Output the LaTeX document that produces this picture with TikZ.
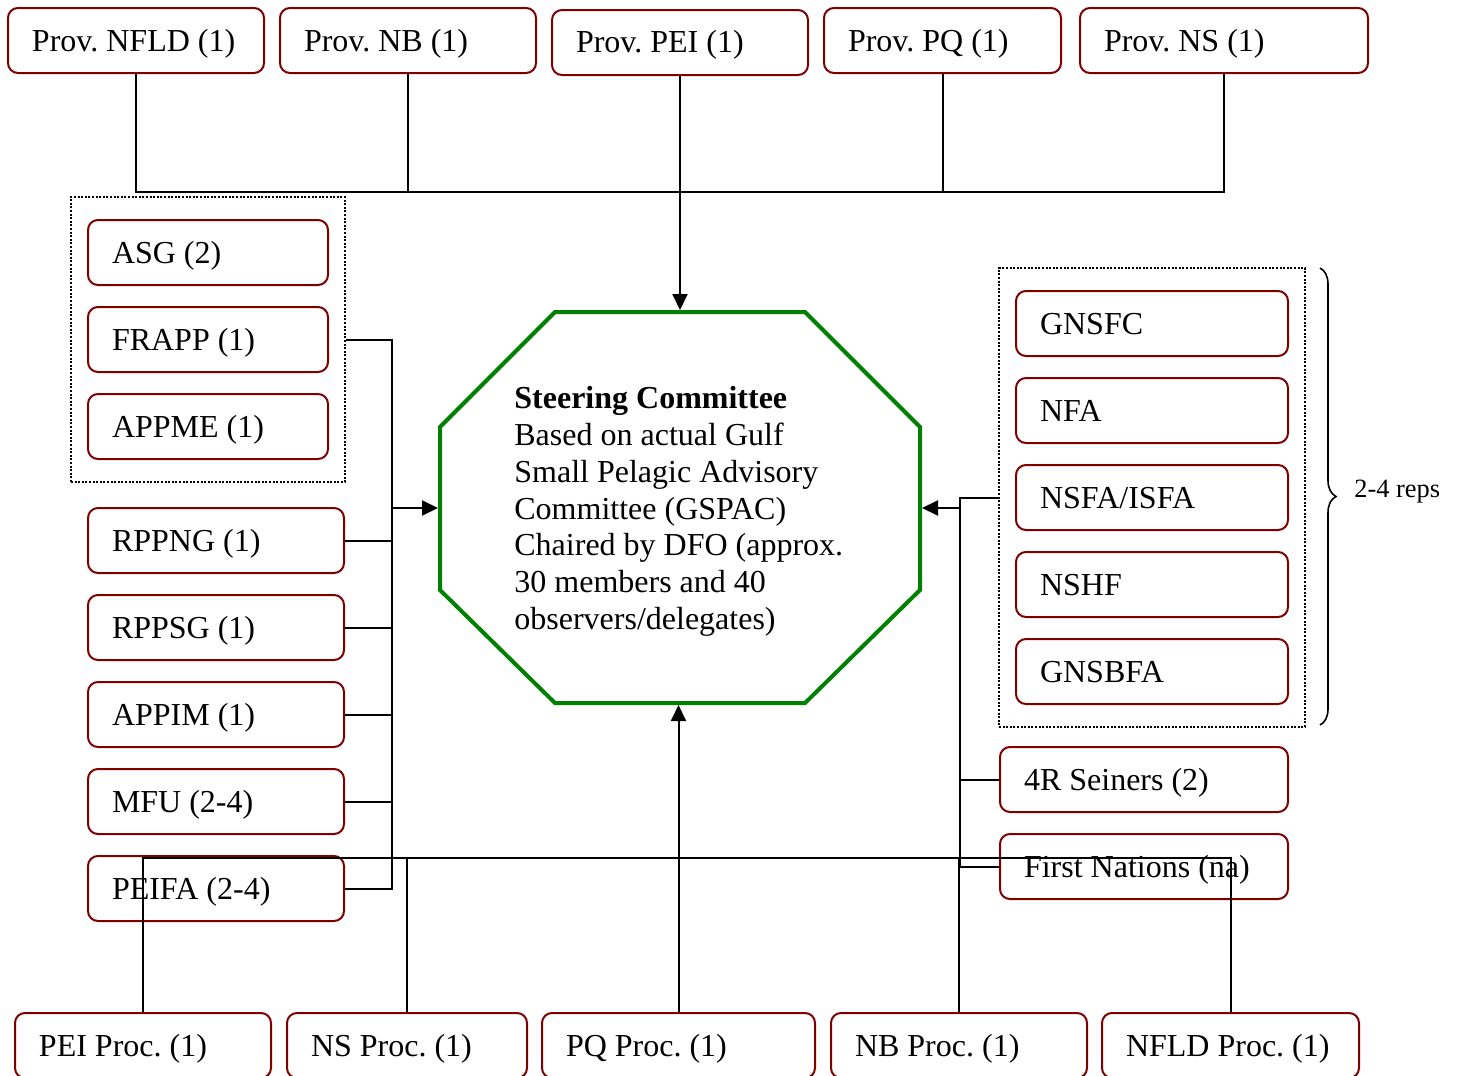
\documentclass[tikz,border=0pt]{standalone}
\usepackage{fontspec}
\setmainfont{Liberation Serif}
\usetikzlibrary{arrows.meta,fit,decorations.pathreplacing}
\definecolor{dred}{RGB}{128,0,0}
\definecolor{octgreen}{RGB}{0,128,0}
\frenchspacing
\begin{document}
\begin{tikzpicture}[x=0.5pt,y=-0.5pt,
  box/.style={draw=dred, line width=1pt, rounded corners=5pt, fill=white,
    minimum height=32.5pt, inner xsep=12pt, inner ysep=0pt, align=flush left,
    text height=11.5pt, text depth=1pt,
    font=\fontsize{16}{18.4}\selectfont},
  dotbox/.style={draw=black, line width=1.4pt, dash pattern=on 1pt off 0.8pt,
    inner xsep=8pt, inner ysep=11pt},
  conn/.style={draw=black, line width=1pt},
  arr/.style={conn, -{Triangle[length=8pt,width=7.5pt]}},
  octline/.style={draw=octgreen, line width=2pt}]
\clip (0,0) rectangle (1457,1076);
\useasboundingbox (0,0) rectangle (1457,1076);
\fill[white] (0,0) rectangle (1457,1076);

% top row
\node[box, text width=104pt] (tnfld) at (136,40.5) {Prov. NFLD (1)};
\node[box, text width=104pt] (tnb) at (408,40.5) {Prov. NB (1)};
\node[box, text width=104pt] (tpei) at (680,42.5) {Prov. PEI (1)};
\node[box, text width=94.5pt] (tpq) at (942.5,40.5) {Prov. PQ (1)};
\node[box, text width=120pt] (tns) at (1224,40.5) {Prov. NS (1)};

% left group
\node[box, text width=96pt] (asg) at (208,252.5) {ASG (2)};
\node[box, text width=96pt] (frapp) at (208,339.5) {FRAPP (1)};
\node[box, text width=96pt] (appme) at (208,426.5) {APPME (1)};
\node[dotbox, fit=(asg)(frapp)(appme)] (ldot) {};

\node[box, text width=104pt] (rppng) at (216,540.5) {RPPNG (1)};
\node[box, text width=104pt] (rppsg) at (216,627.5) {RPPSG (1)};
\node[box, text width=104pt] (appim) at (216,714.5) {APPIM (1)};
\node[box, text width=104pt] (mfu) at (216,801.5) {MFU (2-4)};
\node[box, text width=104pt] (peifa) at (216,888.5) {PEIFA (2-4)};

% right group
\node[box, text width=112pt] (gnsfc) at (1152,323.5) {GNSFC};
\node[box, text width=112pt] (nfa) at (1152,410.5) {NFA};
\node[box, text width=112pt] (nsfa) at (1152,497.5) {NSFA/ISFA};
\node[box, text width=112pt] (nshf) at (1152,584.5) {NSHF};
\node[box, text width=112pt] (gnsbfa) at (1152,671.5) {GNSBFA};
\node[dotbox, fit=(gnsfc)(gnsbfa)] (rdot) {};

\node[box, text width=120pt] (seiners) at (1144,779.5) {4R Seiners (2)};
\node[box, text width=120pt] (fnat) at (1144,866.5) {First Nations (na)};

% bottom row
\node[box, text width=104pt] (bpei) at (143,1045.5) {PEI Proc. (1)};
\node[box, text width=96pt] (bns) at (407,1045.5) {NS Proc. (1)};
\node[box, text width=112.5pt] (bpq) at (678.5,1045.5) {PQ Proc. (1)};
\node[box, text width=104pt] (bnb) at (959,1045.5) {NB Proc. (1)};
\node[box, text width=104.5pt] (bnfld) at (1230.5,1045.5) {NFLD Proc. (1)};

% octagon
\draw[octline] (555,312) -- (805,312) -- (920,427) -- (920,590) -- (805,703)
  -- (555,703) -- (440,590) -- (440,427) -- cycle;
\coordinate (octN) at (680,312);
\coordinate (octS) at (680,703);
\coordinate (octW) at (440,508);
\coordinate (octE) at (920,508);
\node[anchor=north west, align=left, inner sep=0pt,
  font=\fontsize{16}{18.4}\selectfont] (octtext) at (514,386)
  {\textbf{Steering Committee}\\Based on actual Gulf\\Small Pelagic Advisory\\Committee (GSPAC)\\Chaired by DFO (approx.\\30 members and 40\\observers/delegates)};

% brace
\draw[line width=0.8pt, decorate, decoration={brace, amplitude=8pt}] (1320,268) -- (1320,725);
\node[anchor=west, inner sep=0pt, font=\fontsize{13.2}{15}\selectfont] (reps) at (1354,492) {2-4 reps};

% top connectors
\coordinate (tbus) at (680,192);
\draw[conn] (tnfld.south) -- (tnfld.south |- tbus) -- (tns.south |- tbus) -- (tns.south);
\draw[conn] (tnb.south) -- (tnb.south |- tbus);
\draw[conn] (tpq.south) -- (tpq.south |- tbus);
\draw[arr, shorten >=1pt] (tpei.south) -- (octN);

% left connectors
\coordinate (lbus) at (392,508);
\draw[conn] (ldot.east |- frapp) -- (lbus |- frapp) -- (lbus |- peifa) -- (peifa.east);
\draw[conn] (rppng.east) -- (lbus |- rppng);
\draw[conn] (rppsg.east) -- (lbus |- rppsg);
\draw[conn] (appim.east) -- (lbus |- appim);
\draw[conn] (mfu.east) -- (lbus |- mfu);
\draw[arr, shorten >=1pt] (lbus) -- (octW);

% right connectors
\coordinate (rbus) at (960,508);
\draw[conn] (rdot.west) -- (rbus |- rdot.west) -- (rbus |- fnat) -- (fnat.west);
\draw[conn] (seiners.west) -- (rbus |- seiners);
\draw[arr, shorten >=1pt] (rbus) -- (octE);

% bottom connectors
\coordinate (bbus) at (680,858);
\draw[conn] (bpei.north) -- (bpei.north |- bbus) -- (bnfld.north |- bbus) -- (bnfld.north);
\draw[conn] (bns.north) -- (bns.north |- bbus);
\draw[conn] (bnb.north) -- (bnb.north |- bbus);
\draw[arr, shorten >=1pt] (bpq.north) -- (bpq.north |- octS);
\end{tikzpicture}
\end{document}
